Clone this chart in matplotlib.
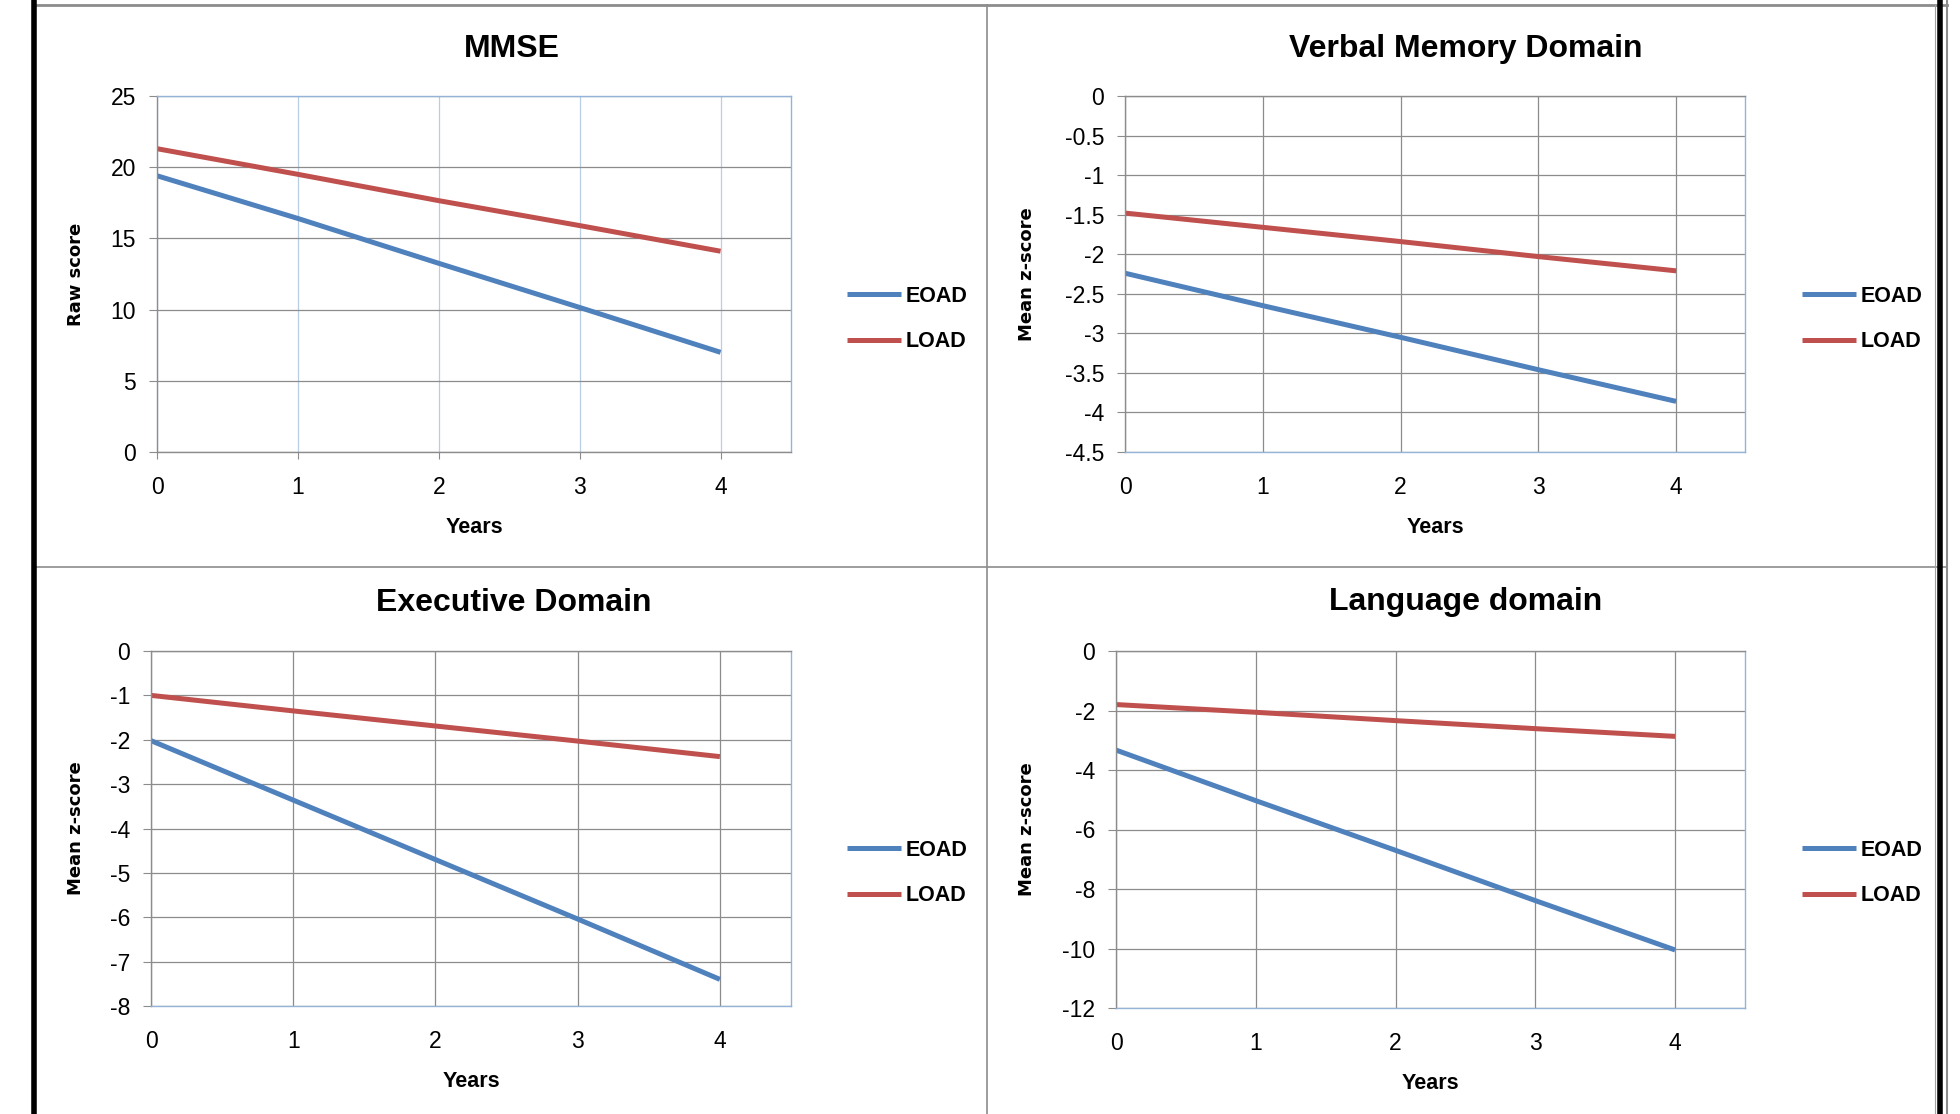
import matplotlib
matplotlib.use("Agg")
import matplotlib.pyplot as plt
from matplotlib.lines import Line2D
from matplotlib import font_manager

# data
years = [0, 1, 2, 3, 4]
series_names = ["EOAD", "LOAD"]

mmse_eoad = [19.4, 16.4, 13.25, 10.15, 7.0]
mmse_load = [21.3, 19.5, 17.65, 15.9, 14.1]

verbal_eoad = [-2.24, -2.65, -3.05, -3.46, -3.86]
verbal_load = [-1.48, -1.66, -1.84, -2.03, -2.21]

exec_eoad = [-2.02, -3.36, -4.7, -6.04, -7.4]
exec_load = [-1.0, -1.35, -1.69, -2.03, -2.38]

lang_eoad = [-3.33, -5.03, -6.7, -8.39, -10.05]
lang_load = [-1.8, -2.06, -2.34, -2.61, -2.87]

titles = ["MMSE", "Verbal Memory Domain", "Executive Domain", "Language domain"]
ylabels = ["Raw score", "Mean z-score", "Mean z-score", "Mean z-score"]
yticks_mmse = [0, 5, 10, 15, 20, 25]
yticks_verbal = [0, -0.5, -1, -1.5, -2, -2.5, -3, -3.5, -4, -4.5]
yticks_exec = [0, -1, -2, -3, -4, -5, -6, -7, -8]
yticks_lang = [0, -2, -4, -6, -8, -10, -12]

BLUE = "#4F81BD"
RED = "#C0504D"
GRID = "#8C8C8C"
LIGHTBLUE = "#B9CDE5"
BORDER = "#95B3D7"

names = [f.name for f in font_manager.fontManager.ttflist]
tick_font = "Liberation Sans Narrow" if "Liberation Sans Narrow" in names else "Liberation Sans"

W, H = 1960, 1114
fig = plt.figure(figsize=(W / 100, H / 100), dpi=100)
fig.patch.set_facecolor("white")

def fx(px):
    return px / W

def fy(py):
    return 1 - py / H

panels = [
    # rect in pixels (left, top, right, bottom), data, ticks, title center, legend x, ylabel x
    dict(rect=(157, 96, 791, 452), eoad=mmse_eoad, load=mmse_load, yt=yticks_mmse,
         title_x=512, title_y=49, leg_x=847, leg_y=319, ylab=-0.114, neg=False),
    dict(rect=(1125, 96, 1745, 452), eoad=verbal_eoad, load=verbal_load, yt=yticks_verbal,
         title_x=1466, title_y=49, leg_x=1802, leg_y=319, ylab=-0.143, neg=True),
    dict(rect=(151, 651, 791, 1006), eoad=exec_eoad, load=exec_load, yt=yticks_exec,
         title_x=514, title_y=603, leg_x=847, leg_y=873, ylab=-0.103, neg=True),
    dict(rect=(1116, 651, 1745, 1008), eoad=lang_eoad, load=lang_load, yt=yticks_lang,
         title_x=1466, title_y=602, leg_x=1802, leg_y=873, ylab=-0.127, neg=True),
]

for i, p in enumerate(panels):
    l, t, r, b = p["rect"]
    ax = fig.add_axes([fx(l), fy(b), fx(r - l), (b - t) / H])
    ax.plot(years, p["eoad"], color=BLUE, lw=3.6, label=series_names[0], solid_capstyle="butt")
    ax.plot(years, p["load"], color=RED, lw=3.6, label=series_names[1], solid_capstyle="butt")
    ax.set_xlim(0, 4.5)
    ax.set_ylim(min(p["yt"]), max(p["yt"]))
    ax.set_xticks(years)
    ax.set_yticks(p["yt"])
    ax.set_yticklabels([("%g" % v) for v in p["yt"]], fontfamily=tick_font, fontsize=16.5)
    ax.set_xticklabels([str(v) for v in years], fontfamily=tick_font, fontsize=16.5)

    # grid
    ax.yaxis.grid(True, color=GRID, lw=0.9)
    ax.xaxis.grid(True, color=LIGHTBLUE if i == 0 else GRID, lw=0.9)
    ax.set_axisbelow(True)

    ax.spines["left"].set_color(GRID)
    ax.spines["right"].set_color(BORDER)
    if p["neg"]:
        ax.spines["top"].set_color(GRID)
        ax.spines["bottom"].set_color(BORDER)
        ax.tick_params(axis="x", length=0, pad=17)
    else:
        ax.spines["top"].set_color(BORDER)
        ax.spines["bottom"].set_color(GRID)
        ax.tick_params(axis="x", length=5, color=GRID, pad=12.5)
    for s in ax.spines.values():
        s.set_linewidth(1.0)
    ax.tick_params(axis="y", length=6, color=GRID, pad=9)

    ax.set_xlabel("Years", fontfamily="Liberation Sans", fontweight="bold", fontsize=15.5)
    ax.xaxis.set_label_coords(0.5, -0.182)
    ax.set_ylabel(ylabels[i], fontfamily="DejaVu Sans", fontweight="bold", fontsize=13)
    ax.yaxis.set_label_coords(p["ylab"], 0.5)

    fig.text(fx(p["title_x"]), fy(p["title_y"]), titles[i], ha="center", va="center",
             fontfamily="Liberation Sans", fontweight="bold", fontsize=23)

    ax.legend(loc="center left", bbox_to_anchor=(fx(p["leg_x"]), fy(p["leg_y"])),
              bbox_transform=fig.transFigure, frameon=False, borderpad=0, borderaxespad=0,
              handlelength=2.5, handletextpad=0.2, labelspacing=1.15,
              prop=dict(family="Liberation Sans", weight="bold", size=15.5))

# table borders around the four charts
def vline(x, y0, y1, color, lw):
    fig.add_artist(Line2D([fx(x), fx(x)], [fy(y0), fy(y1)], color=color, lw=lw,
                          transform=fig.transFigure))

def hline(y, x0, x1, color, lw):
    fig.add_artist(Line2D([fx(x0), fx(x1)], [fy(y), fy(y)], color=color, lw=lw,
                          transform=fig.transFigure))

hline(5, 34, 1947, "#8C8C8C", 2.0)
hline(567, 34, 1947, "#8C8C8C", 1.2)
vline(987, 5, H, "#8C8C8C", 1.2)
vline(1935, 5, H, "#A0A0A0", 0.8)
vline(1947, 0, H, "#8C8C8C", 1.5)
vline(34, 0, H, "black", 4.0)
vline(1940, 0, H, "black", 4.0)

fig.savefig("out.png", dpi=100, facecolor="white")
